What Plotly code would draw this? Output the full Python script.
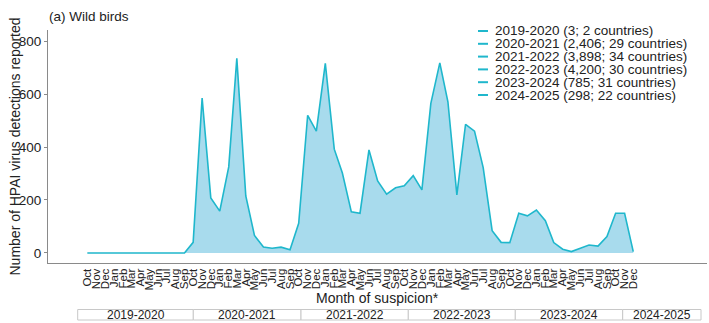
import pandas as pd
import plotly.graph_objects as go

# ---------------- data ----------------
months = pd.date_range("2019-10-01", "2024-12-01", freq="MS")
month_labels = [m.strftime("%b") for m in months]

season_2019_2020 = [0, 0, 0, 2, 0, 1, 0, 0, 0, 0, 0, 0]
season_2020_2021 = [40, 585, 208, 158, 325, 735, 215, 66, 22, 18, 22, 12]
season_2021_2022 = [112, 520, 460, 716, 392, 302, 155, 150, 389, 272, 222, 246]
season_2022_2023 = [254, 292, 238, 565, 718, 571, 219, 486, 460, 322, 84, 40]
season_2023_2024 = [39, 150, 140, 162, 122, 39, 14, 5, 18, 30, 26, 62]
season_2024_2025 = [150, 150, 5]

detections = (season_2019_2020 + season_2020_2021 + season_2021_2022
              + season_2022_2023 + season_2023_2024 + season_2024_2025)

seasons = ["2019-2020", "2020-2021", "2021-2022", "2022-2023", "2023-2024", "2024-2025"]
season_totals = [3, 2406, 3898, 4200, 785, 298]
season_countries = [2, 29, 34, 30, 31, 22]

y_ticks = [0, 200, 400, 600, 800]

# ---------------- style ----------------
LINE = "#1fb7cc"
FILL = "#a8dbed"
AXIS = "#8a8a8a"
TEXT = "#222222"
FONT = "Liberation Sans, Arial, sans-serif"

W, H = 709, 323
L, R, T, B = 48, 2, 30, 60
PW, PH = W - L - R, H - T - B


def px_x(p):
    return (p - L) / PW


def px_y(p):
    return (H - B - p) / PH


fig = go.Figure()
fig.add_trace(go.Scatter(
    x=months, y=detections, mode="lines",
    line=dict(color=LINE, width=1.6),
    fill="tozeroy", fillcolor=FILL,
    showlegend=False,
))

annotations = []
shapes = []

# legend (drawn compactly, as in the reference)
legend_rows_px = [31, 43.8, 56.6, 69.4, 82.2, 95]
for s, tot, c, ypx in zip(seasons, season_totals, season_countries, legend_rows_px):
    shapes.append(dict(type="line", xref="paper", yref="paper",
                       x0=px_x(478), x1=px_x(488), y0=px_y(ypx), y1=px_y(ypx),
                       line=dict(color=LINE, width=2)))
    annotations.append(dict(text=f"{s} ({tot:,}; {c} countries)",
                            xref="paper", yref="paper", x=px_x(493), y=px_y(ypx),
                            xanchor="left", yanchor="middle", showarrow=False,
                            font=dict(size=13.5, color=TEXT, family=FONT)))

# season strip below the axis
strip_px = [77.7, 193.3, 301, 408.3, 515.3, 622.7, 701]
for i, s in enumerate(seasons):
    x0, x1 = px_x(strip_px[i]), px_x(strip_px[i + 1])
    shapes.append(dict(type="rect", xref="paper", yref="paper",
                       x0=x0, x1=x1, y0=px_y(320), y1=px_y(309.5),
                       line=dict(color="#c8c8c8", width=1), fillcolor="white"))
    annotations.append(dict(text=s, xref="paper", yref="paper",
                            x=(x0 + x1) / 2, y=px_y(315), xanchor="center", yanchor="middle",
                            showarrow=False, font=dict(size=12, color=TEXT, family=FONT)))

# titles
annotations.append(dict(text="(a) Wild birds", xref="paper", yref="paper",
                        x=px_x(47), y=px_y(17), xanchor="left", yanchor="middle",
                        showarrow=False, font=dict(size=13.5, color=TEXT, family=FONT)))
annotations.append(dict(text="Month of suspicion*", xref="paper", yref="paper",
                        x=0.5, y=px_y(297.5), xanchor="center", yanchor="middle",
                        showarrow=False, font=dict(size=14, color=TEXT, family=FONT)))
annotations.append(dict(text="Number of HPAI virus detections reported", xref="paper", yref="paper",
                        x=px_x(14), y=0.5, xanchor="center", yanchor="middle", textangle=-90,
                        showarrow=False, font=dict(size=14, color=TEXT, family=FONT)))

fig.update_layout(
    width=W, height=H,
    margin=dict(l=L, r=R, t=T, b=B),
    paper_bgcolor="white", plot_bgcolor="white",
    font=dict(family=FONT, color=TEXT),
    showlegend=False,
    annotations=annotations,
    shapes=shapes,
)

fig.update_xaxes(
    range=[months[0] - pd.Timedelta(days=136), months[-1] + pd.Timedelta(days=255)],
    tickmode="array", tickvals=months, ticktext=month_labels,
    tickangle=-90, tickfont=dict(size=11.5, color=TEXT, family=FONT),
    showgrid=False, zeroline=False,
    showline=True, linecolor=AXIS, linewidth=1.2,
    ticks="", automargin=False,
)
fig.update_yaxes(
    range=[-38, 842],
    tickvals=y_ticks, tickfont=dict(size=13.5, color=TEXT, family=FONT),
    showgrid=False, zeroline=False,
    showline=True, linecolor=AXIS, linewidth=1.2,
    ticks="outside", ticklen=3, tickcolor=AXIS, automargin=False,
)

fig.write_html(
    "out.html",
    config={"displayModeBar": False},
    post_script="document.body.style.margin='0';document.body.style.overflow='hidden';",
)
